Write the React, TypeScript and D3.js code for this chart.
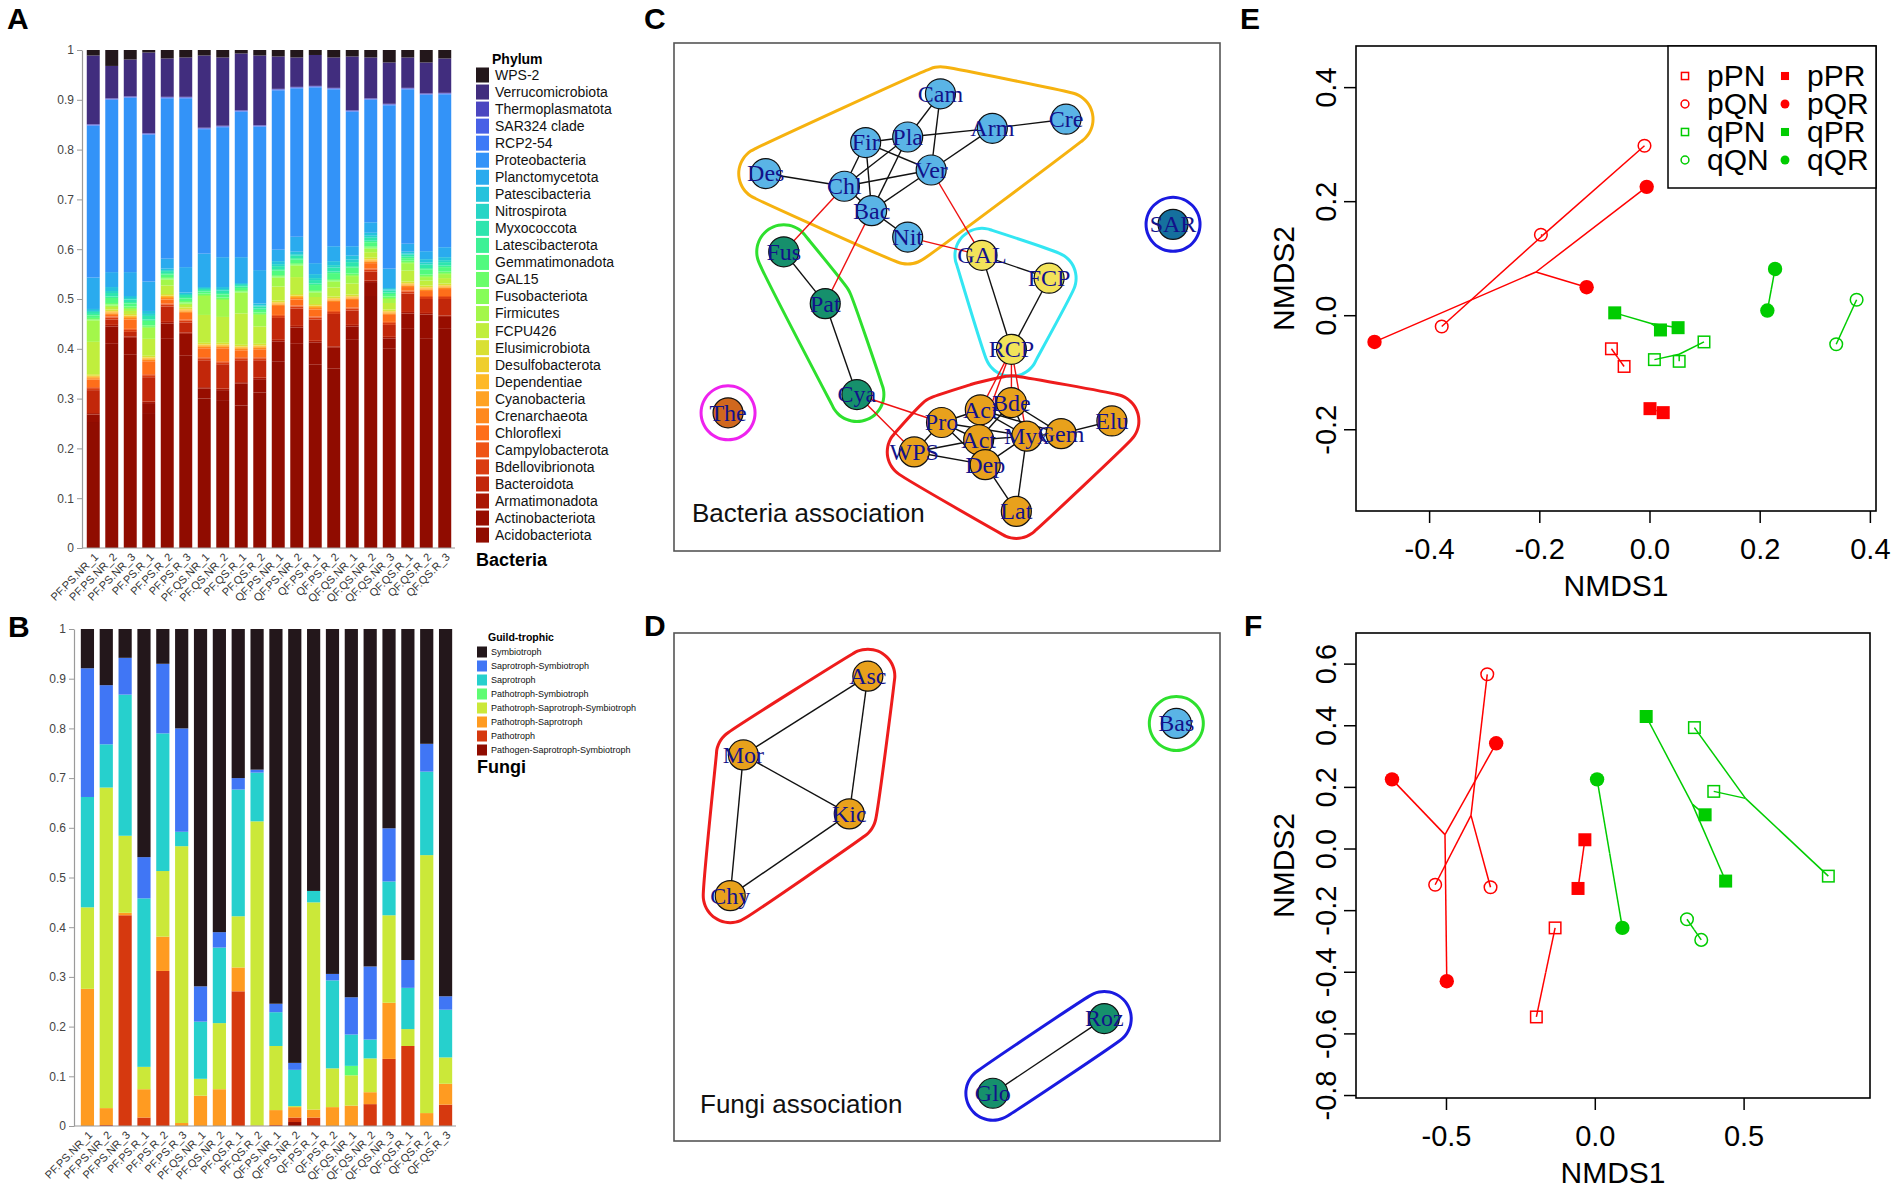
import React, { useEffect, useRef } from 'react';
import * as d3 from 'd3';

const SANS = '"Liberation Sans", Arial, Helvetica, sans-serif';
const SERIF = '"Liberation Serif", "Times New Roman", Times, serif';

// ---------- samples (shared by A and B) ----------
const samples = [
  'PF.PS.NR_1', 'PF.PS.NR_2', 'PF.PS.NR_3', 'PF.PS.R_1', 'PF.PS.R_2', 'PF.PS.R_3',
  'PF.QS.NR_1', 'PF.QS.NR_2', 'PF.QS.R_1', 'PF.QS.R_2', 'QF.PS.NR_1', 'QF.PS.NR_2',
  'QF.PS.R_1', 'QF.PS.R_2', 'QF.QS.NR_1', 'QF.QS.NR_2', 'QF.QS.NR_3', 'QF.QS.R_1',
  'QF.QS.R_2', 'QF.QS.R_3',
];

// ---------- A: bacterial phyla (bottom -> top) ----------
const acidobacteriota = [0.253, 0.410, 0.388, 0.271, 0.420, 0.386, 0.300, 0.297, 0.286, 0.312, 0.375, 0.410, 0.368, 0.360, 0.418, 0.506, 0.400, 0.440, 0.420, 0.440];
const actinobacteriota = [0.015, 0.035, 0.034, 0.020, 0.031, 0.044, 0.020, 0.020, 0.044, 0.027, 0.040, 0.033, 0.045, 0.042, 0.027, 0.028, 0.021, 0.031, 0.049, 0.024];
const armatimonadota = [0.003, 0.003, 0.003, 0.003, 0.003, 0.003, 0.003, 0.003, 0.003, 0.003, 0.003, 0.003, 0.003, 0.003, 0.003, 0.003, 0.003, 0.003, 0.003, 0.003];
const bacteroidota = [0.046, 0.011, 0.009, 0.049, 0.031, 0.020, 0.054, 0.049, 0.044, 0.035, 0.044, 0.035, 0.043, 0.065, 0.029, 0.018, 0.024, 0.037, 0.028, 0.033];
const bdellovibrionota = [0.004, 0.004, 0.004, 0.004, 0.004, 0.004, 0.004, 0.004, 0.004, 0.004, 0.004, 0.004, 0.004, 0.004, 0.004, 0.004, 0.004, 0.004, 0.004, 0.004];
const campylobacterota = [0.002, 0.002, 0.002, 0.002, 0.002, 0.002, 0.002, 0.002, 0.002, 0.002, 0.002, 0.002, 0.002, 0.002, 0.002, 0.002, 0.002, 0.002, 0.002, 0.002];
const chloroflexi = [0.015, 0.003, 0.019, 0.026, 0.008, 0.013, 0.018, 0.026, 0.014, 0.016, 0.018, 0.012, 0.014, 0.018, 0.015, 0.011, 0.014, 0.007, 0.010, 0.014];
const crenarchaeota = [0.003, 0.003, 0.003, 0.003, 0.003, 0.003, 0.003, 0.003, 0.003, 0.003, 0.003, 0.003, 0.003, 0.003, 0.003, 0.003, 0.003, 0.003, 0.003, 0.003];
const cyanobacteria = [0.002, 0.002, 0.002, 0.002, 0.002, 0.002, 0.002, 0.002, 0.002, 0.002, 0.002, 0.002, 0.002, 0.002, 0.002, 0.002, 0.002, 0.002, 0.002, 0.002];
const dependentiae = [0.002, 0.002, 0.002, 0.002, 0.002, 0.002, 0.002, 0.002, 0.002, 0.002, 0.002, 0.002, 0.002, 0.002, 0.002, 0.002, 0.002, 0.002, 0.002, 0.002];
const desulfobacterota = [0.001, 0.001, 0.001, 0.001, 0.001, 0.001, 0.001, 0.001, 0.001, 0.001, 0.001, 0.001, 0.001, 0.001, 0.001, 0.001, 0.001, 0.001, 0.001, 0.001];
const elusimicrobiota = [0.003, 0.003, 0.003, 0.003, 0.003, 0.003, 0.003, 0.003, 0.003, 0.003, 0.003, 0.003, 0.003, 0.003, 0.003, 0.003, 0.003, 0.003, 0.003, 0.003];
const fcpu426 = [0.065, 0.005, 0.006, 0.034, 0.017, 0.005, 0.056, 0.052, 0.063, 0.035, 0.028, 0.034, 0.014, 0.018, 0.022, 0.011, 0.013, 0.022, 0.010, 0.011];
const firmicutes = [0.043, 0.003, 0.004, 0.022, 0.012, 0.003, 0.038, 0.034, 0.042, 0.023, 0.018, 0.023, 0.009, 0.012, 0.015, 0.007, 0.008, 0.015, 0.007, 0.008];
const fusobacteriota = [0.002, 0.002, 0.002, 0.002, 0.002, 0.002, 0.002, 0.002, 0.002, 0.002, 0.002, 0.002, 0.002, 0.002, 0.002, 0.002, 0.002, 0.002, 0.002, 0.002];
const gal15 = [0.003, 0.003, 0.003, 0.003, 0.003, 0.003, 0.003, 0.003, 0.003, 0.003, 0.003, 0.003, 0.003, 0.003, 0.003, 0.003, 0.003, 0.003, 0.003, 0.003];
const gemmatimonadota = [0.005, 0.010, 0.006, 0.009, 0.005, 0.005, 0.004, 0.006, 0.004, 0.005, 0.009, 0.007, 0.010, 0.012, 0.012, 0.008, 0.005, 0.005, 0.010, 0.009];
const latescibacterota = [0.003, 0.003, 0.003, 0.003, 0.003, 0.003, 0.003, 0.003, 0.003, 0.003, 0.003, 0.003, 0.003, 0.003, 0.003, 0.003, 0.003, 0.003, 0.003, 0.003];
const myxococcota = [0.004, 0.007, 0.005, 0.007, 0.004, 0.004, 0.002, 0.005, 0.003, 0.004, 0.006, 0.005, 0.007, 0.008, 0.008, 0.006, 0.004, 0.004, 0.007, 0.007];
const nitrospirota = [0.002, 0.004, 0.003, 0.004, 0.002, 0.002, 0.002, 0.003, 0.002, 0.002, 0.004, 0.003, 0.004, 0.005, 0.005, 0.004, 0.002, 0.002, 0.004, 0.004];
const patescibacteria = [0.004, 0.008, 0.004, 0.006, 0.003, 0.003, 0.002, 0.004, 0.002, 0.004, 0.006, 0.005, 0.008, 0.008, 0.008, 0.006, 0.003, 0.004, 0.007, 0.006];
const planctomycetota = [0.063, 0.030, 0.048, 0.059, 0.020, 0.051, 0.067, 0.060, 0.052, 0.067, 0.023, 0.030, 0.022, 0.030, 0.019, 0.021, 0.039, 0.016, 0.016, 0.020];
const proteobacteria = [0.305, 0.346, 0.350, 0.295, 0.322, 0.339, 0.250, 0.261, 0.292, 0.288, 0.320, 0.298, 0.353, 0.315, 0.270, 0.246, 0.328, 0.310, 0.314, 0.307];
const rcp2_54 = [0.001, 0.001, 0.001, 0.001, 0.001, 0.001, 0.001, 0.001, 0.001, 0.001, 0.001, 0.001, 0.001, 0.001, 0.001, 0.001, 0.001, 0.001, 0.001, 0.001];
const sar324 = [0.001, 0.001, 0.001, 0.001, 0.001, 0.001, 0.001, 0.001, 0.001, 0.001, 0.001, 0.001, 0.001, 0.001, 0.001, 0.001, 0.001, 0.001, 0.001, 0.001];
const thermoplasmatota = [0.001, 0.001, 0.001, 0.001, 0.001, 0.001, 0.001, 0.001, 0.001, 0.001, 0.001, 0.001, 0.001, 0.001, 0.001, 0.001, 0.001, 0.001, 0.001, 0.001];
const verrucomicrobiota = [0.138, 0.065, 0.074, 0.162, 0.077, 0.079, 0.145, 0.137, 0.114, 0.140, 0.065, 0.059, 0.062, 0.061, 0.108, 0.082, 0.083, 0.061, 0.062, 0.069];
const wps2 = [0.011, 0.032, 0.019, 0.005, 0.017, 0.015, 0.011, 0.015, 0.007, 0.011, 0.013, 0.015, 0.010, 0.015, 0.013, 0.015, 0.025, 0.015, 0.025, 0.017];

const phylumNames = [
  'Acidobacteriota', 'Actinobacteriota', 'Armatimonadota', 'Bacteroidota', 'Bdellovibrionota',
  'Campylobacterota', 'Chloroflexi', 'Crenarchaeota', 'Cyanobacteria', 'Dependentiae',
  'Desulfobacterota', 'Elusimicrobiota', 'FCPU426', 'Firmicutes', 'Fusobacteriota', 'GAL15',
  'Gemmatimonadota', 'Latescibacterota', 'Myxococcota', 'Nitrospirota', 'Patescibacteria',
  'Planctomycetota', 'Proteobacteria', 'RCP2-54', 'SAR324 clade', 'Thermoplasmatota',
  'Verrucomicrobiota', 'WPS-2',
];
const phylumSeries = [
  acidobacteriota, actinobacteriota, armatimonadota, bacteroidota, bdellovibrionota,
  campylobacterota, chloroflexi, crenarchaeota, cyanobacteria, dependentiae,
  desulfobacterota, elusimicrobiota, fcpu426, firmicutes, fusobacteriota, gal15,
  gemmatimonadota, latescibacterota, myxococcota, nitrospirota, patescibacteria,
  planctomycetota, proteobacteria, rcp2_54, sar324, thermoplasmatota,
  verrucomicrobiota, wps2,
];

// ---------- B: fungal guilds (bottom -> top) ----------
const pathogenSaproSymbio = [0, 0, 0, 0, 0, 0, 0, 0, 0, 0, 0, 0.008, 0, 0, 0, 0, 0, 0, 0, 0];
const pathotroph = [0, 0.002, 0.424, 0.017, 0.312, 0, 0, 0, 0.271, 0, 0.002, 0.009, 0.017, 0, 0, 0.044, 0.135, 0.161, 0, 0.043];
const pathoSapro = [0.276, 0.034, 0.005, 0.057, 0.069, 0.006, 0.061, 0.074, 0.048, 0.001, 0.030, 0.021, 0.016, 0.038, 0.041, 0.024, 0.113, 0, 0.026, 0.042];
const pathoSaproSymbio = [0.164, 0.645, 0.155, 0.045, 0.132, 0.557, 0.034, 0.133, 0.103, 0.612, 0.129, 0.002, 0.417, 0.078, 0.061, 0.068, 0.176, 0.034, 0.519, 0.053];
const pathoSymbio = [0, 0, 0, 0, 0, 0, 0, 0, 0, 0, 0, 0, 0, 0, 0.019, 0, 0, 0, 0, 0];
const saprotroph = [0.222, 0.087, 0.284, 0.339, 0.277, 0.029, 0.115, 0.152, 0.255, 0.098, 0.068, 0.073, 0.023, 0.177, 0.063, 0.038, 0.068, 0.083, 0.168, 0.096];
const saproSymbio = [0.259, 0.119, 0.074, 0.083, 0.140, 0.208, 0.071, 0.031, 0.023, 0.006, 0.017, 0.014, 0, 0.013, 0.075, 0.147, 0.107, 0.056, 0.056, 0.027];
const symbiotroph = [0.079, 0.113, 0.058, 0.459, 0.070, 0.200, 0.719, 0.610, 0.300, 0.283, 0.754, 0.873, 0.527, 0.694, 0.741, 0.679, 0.401, 0.666, 0.231, 0.739];

const guildNames = [
  'Pathogen-Saprotroph-Symbiotroph', 'Pathotroph', 'Pathotroph-Saprotroph',
  'Pathotroph-Saprotroph-Symbiotroph', 'Pathotroph-Symbiotroph', 'Saprotroph',
  'Saprotroph-Symbiotroph', 'Symbiotroph',
];
const guildSeries = [
  pathogenSaproSymbio, pathotroph, pathoSapro, pathoSaproSymbio, pathoSymbio,
  saprotroph, saproSymbio, symbiotroph,
];

// ---------- C: bacteria association network (layout units 0-100) ----------
const bactNodes = ['Cam', 'Cre', 'Arm', 'Pla', 'Fir', 'Ver', 'Des', 'Chl', 'Bac', 'Nit', 'SAR', 'Fus', 'GAL', 'FCP', 'Pat', 'RCP', 'Cya', 'The', 'Bde', 'Aci', 'Elu', 'Pro', 'Gem', 'Myx', 'Act', 'WPS', 'Dep', 'Lat'];
const bactNodeX = [48.8, 71.8, 58.3, 42.8, 35.1, 47.1, 16.8, 31.2, 36.2, 42.8, 91.4, 20.1, 56.4, 68.7, 27.7, 61.8, 33.5, 9.9, 61.8, 56.1, 80.2, 49.0, 70.9, 64.6, 55.8, 44.0, 57.0, 62.7];
const bactNodeY = [10.0, 15.0, 16.8, 18.5, 19.6, 25.0, 25.7, 28.2, 33.0, 38.2, 35.7, 41.1, 41.8, 46.3, 51.3, 60.3, 69.2, 72.8, 70.8, 72.2, 74.4, 74.7, 76.9, 77.4, 78.1, 80.5, 83.0, 92.2];
const bactNodeModule = [0, 0, 0, 0, 0, 0, 0, 0, 0, 0, 5, 1, 2, 2, 1, 2, 1, 4, 3, 3, 3, 3, 3, 3, 3, 3, 3, 3];
const bactEdgeFrom = ['Cam', 'Cam', 'Pla', 'Arm', 'Arm', 'Fir', 'Fir', 'Fir', 'Fir', 'Pla', 'Pla', 'Ver', 'Ver', 'Des', 'Chl', 'Bac', 'Fus', 'Pat', 'GAL', 'GAL', 'FCP', 'Pro', 'Pro', 'Pro', 'Pro', 'Pro', 'Aci', 'Aci', 'Aci', 'Aci', 'Aci', 'Bde', 'Bde', 'Bde', 'Act', 'Act', 'Act', 'WPS', 'Dep', 'Dep', 'Myx', 'Myx', 'Gem', 'Chl', 'Bac', 'Ver', 'Nit', 'Cya', 'Cya', 'RCP', 'RCP', 'RCP', 'RCP'];
const bactEdgeTo = ['Pla', 'Ver', 'Arm', 'Cre', 'Ver', 'Pla', 'Ver', 'Chl', 'Bac', 'Chl', 'Bac', 'Chl', 'Bac', 'Chl', 'Bac', 'Nit', 'Pat', 'Cya', 'FCP', 'RCP', 'RCP', 'Aci', 'Act', 'WPS', 'Myx', 'Dep', 'Bde', 'Act', 'Myx', 'Dep', 'Gem', 'Myx', 'Gem', 'Act', 'Myx', 'Dep', 'WPS', 'Dep', 'Myx', 'Lat', 'Gem', 'Lat', 'Elu', 'Fus', 'Pat', 'GAL', 'GAL', 'Pro', 'WPS', 'Aci', 'Bde', 'Myx', 'Act'];
const bactEdgeSign = [1, 1, 1, 1, 1, 1, 1, 1, 1, 1, 1, 1, 1, 1, 1, 1, 1, 1, 1, 1, 1, 1, 1, 1, 1, 1, 1, 1, 1, 1, 1, 1, 1, 1, 1, 1, 1, 1, 1, 1, 1, 1, 1, -1, -1, -1, -1, -1, -1, -1, -1, -1, -1];

// ---------- D: fungi association network ----------
const fungiNodes = ['Asc', 'Mor', 'Kic', 'Chy', 'Bas', 'Roz', 'Glo'];
const fungiNodeX = [35.5, 12.7, 32.1, 10.3, 92.0, 78.8, 58.4];
const fungiNodeY = [8.5, 24.0, 35.6, 51.7, 17.8, 75.9, 90.6];
const fungiNodeModule = [0, 0, 0, 0, 1, 2, 2];
const fungiEdgeFrom = ['Asc', 'Asc', 'Mor', 'Mor', 'Kic', 'Glo'];
const fungiEdgeTo = ['Mor', 'Kic', 'Kic', 'Chy', 'Chy', 'Roz'];
const fungiEdgeSign = [1, 1, 1, 1, 1, 1];

// ---------- E / F: NMDS ----------
const legendCol1 = ['pPN', 'pQN', 'qPN', 'qQN'];
const legendCol2 = ['pPR', 'pQR', 'qPR', 'qQR'];

const bactNmdsGroup = ['pQN', 'pQN', 'pQN', 'pQR', 'pQR', 'pQR', 'pPN', 'pPN', 'pPR', 'pPR', 'qPR', 'qPR', 'qPR', 'qPN', 'qPN', 'qPN', 'qQR', 'qQR', 'qQN', 'qQN'];
const bactNmdsX = [-0.010, -0.198, -0.378, -0.006, -0.115, -0.500, -0.070, -0.047, 0.000, 0.024, -0.064, 0.019, 0.051, 0.008, 0.053, 0.098, 0.213, 0.227, 0.338, 0.375];
const bactNmdsY = [0.298, 0.142, -0.019, 0.226, 0.050, -0.046, -0.058, -0.089, -0.163, -0.170, 0.005, -0.025, -0.021, -0.077, -0.080, -0.046, 0.009, 0.082, -0.050, 0.028];
const bactTicksX = [-0.4, -0.2, 0.0, 0.2, 0.4];
const bactTicksY = [-0.2, 0.0, 0.2, 0.4];

const fungiNmdsGroup = ['pQR', 'pQR', 'pQR', 'pQN', 'pQN', 'pQN', 'pPR', 'pPR', 'pPN', 'pPN', 'qQR', 'qQR', 'qQN', 'qQN', 'qPR', 'qPR', 'qPR', 'qPN', 'qPN', 'qPN'];
const fungiNmdsX = [-0.683, -0.333, -0.499, -0.363, -0.538, -0.352, -0.035, -0.058, -0.135, -0.198, 0.006, 0.091, 0.308, 0.356, 0.171, 0.369, 0.438, 0.333, 0.398, 0.783];
const fungiNmdsY = [0.226, 0.343, -0.429, 0.567, -0.116, -0.124, 0.030, -0.128, -0.256, -0.545, 0.226, -0.256, -0.228, -0.295, 0.430, 0.111, -0.104, 0.394, 0.187, -0.088];
const fungiTicksX = [-0.5, 0.0, 0.5];
const fungiTicksY = [-0.8, -0.6, -0.4, -0.2, 0.0, 0.2, 0.4, 0.6];

type Sel = d3.Selection<SVGGElement, unknown, null, undefined>;

function drawStack(g: Sel, names: string[], series: number[][], range: [number, number], yRange: [number, number], axisX: number) {
  const n = names.length;
  const color = (i: number) => d3.interpolateTurbo(1 - i / (n - 1));
  const x = d3.scaleBand<string>().domain(samples).range(range).paddingInner(0.3).paddingOuter(0.15);
  const y = d3.scaleLinear().domain([0, 1]).range(yRange);
  const rows = samples.map((_, j) => {
    const r: Record<string, number> = {};
    names.forEach((nm, i) => { r[nm] = series[i][j]; });
    return r;
  });
  const stacked = d3.stack<Record<string, number>>().keys(names)(rows);
  stacked.forEach((layer, i) => {
    g.append('g').attr('fill', color(i))
      .selectAll('rect').data(layer).join('rect')
      .attr('x', (_, j) => x(samples[j])!)
      .attr('y', d => y(Math.min(d[1], 1)))
      .attr('width', x.bandwidth())
      .attr('height', d => Math.max(0, y(d[0]) - y(Math.min(d[1], 1))));
  });

  const ax = g.append('g').attr('transform', `translate(${axisX},0)`)
    .call(d3.axisLeft(y).tickValues(d3.range(0, 11).map(i => i / 10))
      .tickFormat(d => d3.format('.1~f')(d as number)).tickSize(5).tickSizeOuter(0).tickPadding(3));
  ax.select('.domain').attr('stroke', '#9a9a9a').attr('stroke-width', 1.2);
  ax.selectAll('.tick line').attr('stroke', '#9a9a9a');
  ax.selectAll('.tick text').attr('fill', '#444').attr('font-size', 12).attr('font-family', SANS);

  g.append('line').attr('x1', axisX).attr('x2', range[1] + 1)
    .attr('y1', yRange[0]).attr('y2', yRange[0]).attr('stroke', '#9a9a9a').attr('stroke-width', 1.2);

  g.append('g').selectAll('text').data(samples).join('text')
    .attr('transform', d => `translate(${x(d)! + x.bandwidth() / 2 + 3},${yRange[0] + 7}) rotate(-45)`)
    .attr('text-anchor', 'end').attr('dy', '0.35em')
    .attr('font-family', SANS).attr('font-size', 11).attr('fill', '#333')
    .text(d => d);
  return color;
}

function drawLegend(g: Sel, names: string[], color: (i: number) => string, opt: {
  x: number; y0: number; pitch: number; sw: number; sh: number; textX: number; fs: number;
  title: string; titleY: number; titleFs: number; caption: string; captionY: number;
}) {
  const order = d3.range(names.length).reverse();
  g.append('text').attr('x', opt.textX - 3).attr('y', opt.titleY).attr('dy', '0.35em')
    .attr('font-family', SANS).attr('font-weight', 'bold').attr('font-size', opt.titleFs).text(opt.title);
  order.forEach((i, k) => {
    const cy = opt.y0 + k * opt.pitch;
    g.append('rect').attr('x', opt.x).attr('y', cy - opt.sh / 2).attr('width', opt.sw).attr('height', opt.sh)
      .attr('fill', color(i));
    g.append('text').attr('x', opt.textX).attr('y', cy).attr('dy', '0.35em')
      .attr('font-family', SANS).attr('font-size', opt.fs).attr('fill', '#111').text(names[i]);
  });
  g.append('text').attr('x', opt.x).attr('y', opt.captionY).attr('dy', '0.35em')
    .attr('font-family', SANS).attr('font-weight', 'bold').attr('font-size', 18).text(opt.caption);
}

function hullPath(pts: [number, number][], r: number) {
  const ring: [number, number][] = [];
  pts.forEach(([px, py]) => {
    for (let k = 0; k < 32; k++) {
      const a = (k / 32) * Math.PI * 2;
      ring.push([px + r * Math.cos(a), py + r * Math.sin(a)]);
    }
  });
  const hull = d3.polygonHull(ring) || ring;
  return d3.line().curve(d3.curveCatmullRomClosed.alpha(0.5))(hull) || '';
}

function drawNetwork(g: Sel, cfg: {
  names: string[]; xs: number[]; ys: number[]; modules: number[];
  from: string[]; to: string[]; sign: number[];
  box: [number, number, number, number]; fills: string[]; borders: string[];
  caption: string; capX: number; capY: number;
}) {
  const [x0, x1, y0, y1] = cfg.box;
  const sx = d3.scaleLinear().domain([0, 100]).range([x0, x1]);
  const sy = d3.scaleLinear().domain([0, 100]).range([y0, y1]);
  const pos = new Map(cfg.names.map((nm, i) => [nm, [sx(cfg.xs[i]), sy(cfg.ys[i])] as [number, number]]));

  g.append('rect').attr('x', x0).attr('y', y0).attr('width', x1 - x0).attr('height', y1 - y0)
    .attr('fill', 'none').attr('stroke', '#555').attr('stroke-width', 1.6);

  const mods = Array.from(new Set(cfg.modules));
  mods.forEach(m => {
    const pts = cfg.names.filter((_, i) => cfg.modules[i] === m).map(nm => pos.get(nm)!);
    g.append('path').attr('d', hullPath(pts, 27)).attr('fill', 'none')
      .attr('stroke', cfg.borders[m]).attr('stroke-width', 3);
  });

  cfg.from.forEach((f, i) => {
    const a = pos.get(f)!;
    const b = pos.get(cfg.to[i])!;
    g.append('line').attr('x1', a[0]).attr('y1', a[1]).attr('x2', b[0]).attr('y2', b[1])
      .attr('stroke', cfg.sign[i] > 0 ? '#111' : '#ee1111').attr('stroke-width', 1.4);
  });

  cfg.names.forEach((nm, i) => {
    const p = pos.get(nm)!;
    g.append('circle').attr('cx', p[0]).attr('cy', p[1]).attr('r', 15)
      .attr('fill', cfg.fills[cfg.modules[i]]).attr('stroke', '#111').attr('stroke-width', 1.2);
  });
  cfg.names.forEach(nm => {
    const p = pos.get(nm)!;
    g.append('text').attr('x', p[0]).attr('y', p[1]).attr('dy', '0.33em').attr('text-anchor', 'middle')
      .attr('font-family', SERIF).attr('font-size', 24).attr('fill', '#12128a').text(nm);
  });

  g.append('text').attr('x', cfg.capX).attr('y', cfg.capY).attr('font-family', SANS)
    .attr('font-size', 26).attr('fill', '#111').text(cfg.caption);
}

const groupColor = (grp: string) => (grp[0] === 'p' ? '#ff0000' : '#00cc00');

function drawMarker(g: Sel, grp: string, cx: number, cy: number, scale: number) {
  const col = groupColor(grp);
  const kind = grp.slice(1);
  if (kind === 'PN') {
    const s = 11.5 * scale;
    g.append('rect').attr('x', cx - s / 2).attr('y', cy - s / 2).attr('width', s).attr('height', s)
      .attr('fill', 'none').attr('stroke', col).attr('stroke-width', 1.5);
  } else if (kind === 'QN') {
    g.append('circle').attr('cx', cx).attr('cy', cy).attr('r', 6.3 * scale)
      .attr('fill', 'none').attr('stroke', col).attr('stroke-width', 1.5);
  } else if (kind === 'PR') {
    const s = 13 * scale;
    g.append('rect').attr('x', cx - s / 2).attr('y', cy - s / 2).attr('width', s).attr('height', s).attr('fill', col);
  } else {
    g.append('circle').attr('cx', cx).attr('cy', cy).attr('r', 7.2 * scale).attr('fill', col);
  }
}

function drawNmds(g: Sel, cfg: {
  groups: string[]; xs: number[]; ys: number[];
  xDomain: [number, number]; yDomain: [number, number];
  xRange: [number, number]; yRange: [number, number];
  xTicks: number[]; yTicks: number[]; legend: boolean;
}) {
  const x = d3.scaleLinear().domain(cfg.xDomain).range(cfg.xRange);
  const y = d3.scaleLinear().domain(cfg.yDomain).range(cfg.yRange);
  const [L, R] = cfg.xRange;
  const [B, T] = cfg.yRange;

  // spiders: centroid of each group to its members
  const byGroup = d3.group(d3.range(cfg.groups.length), i => cfg.groups[i]);
  byGroup.forEach((idx, grp) => {
    const cxv = d3.mean(idx, i => cfg.xs[i])!;
    const cyv = d3.mean(idx, i => cfg.ys[i])!;
    idx.forEach(i => {
      g.append('line').attr('x1', x(cxv)).attr('y1', y(cyv)).attr('x2', x(cfg.xs[i])).attr('y2', y(cfg.ys[i]))
        .attr('stroke', groupColor(grp)).attr('stroke-width', 1.5);
    });
  });
  cfg.groups.forEach((grp, i) => drawMarker(g, grp, x(cfg.xs[i]), y(cfg.ys[i]), 1));

  g.append('rect').attr('x', L).attr('y', T).attr('width', R - L).attr('height', B - T)
    .attr('fill', 'none').attr('stroke', '#000').attr('stroke-width', 1.6);

  cfg.xTicks.forEach(t => {
    g.append('line').attr('x1', x(t)).attr('x2', x(t)).attr('y1', B).attr('y2', B + 12)
      .attr('stroke', '#000').attr('stroke-width', 1.5);
    g.append('text').attr('x', x(t)).attr('y', B + 48).attr('text-anchor', 'middle')
      .attr('font-family', SANS).attr('font-size', 29).text(t.toFixed(1));
  });
  cfg.yTicks.forEach(t => {
    g.append('line').attr('x1', L - 12).attr('x2', L).attr('y1', y(t)).attr('y2', y(t))
      .attr('stroke', '#000').attr('stroke-width', 1.5);
    g.append('text').attr('transform', `translate(${L - 20},${y(t)}) rotate(-90)`).attr('text-anchor', 'middle')
      .attr('font-family', SANS).attr('font-size', 29).text(t.toFixed(1));
  });
  g.append('text').attr('x', (L + R) / 2).attr('y', B + 85).attr('text-anchor', 'middle')
    .attr('font-family', SANS).attr('font-size', 30).text('NMDS1');
  g.append('text').attr('transform', `translate(${L - 62},${(T + B) / 2}) rotate(-90)`).attr('text-anchor', 'middle')
    .attr('font-family', SANS).attr('font-size', 30).text('NMDS2');

  if (cfg.legend) {
    const lx = R - 208;
    g.append('rect').attr('x', lx).attr('y', T).attr('width', 208).attr('height', 142)
      .attr('fill', '#fff').attr('stroke', '#000').attr('stroke-width', 1.5);
    [legendCol1, legendCol2].forEach((col, c) => {
      col.forEach((grp, k) => {
        const cy = T + 30 + k * 28;
        const mx = lx + 17 + c * 100;
        drawMarker(g, grp, mx, cy, 0.62);
        g.append('text').attr('x', mx + 22).attr('y', cy + 10).attr('font-family', SANS)
          .attr('font-size', 30).text(grp);
      });
    });
  }
}

const App: React.FC = () => {
  const svgRef = useRef<SVGSVGElement>(null);

  useEffect(() => {
    if (!svgRef.current) return;
    const svg = d3.select(svgRef.current);
    svg.selectAll('*').remove();
    const root = svg.append('g') as unknown as Sel;

    // panel letters
    const letters: [string, number, number][] = [['A', 7, 29], ['B', 8, 637], ['C', 644, 29], ['D', 644, 636], ['E', 1240, 29], ['F', 1244, 636]];
    letters.forEach(([t, lx, ly]) => {
      root.append('text').attr('x', lx).attr('y', ly).attr('font-family', SANS)
        .attr('font-weight', 'bold').attr('font-size', 30).text(t);
    });

    // A
    const gA = root.append('g') as Sel;
    const colA = drawStack(gA, phylumNames, phylumSeries, [84, 454], [548, 50], 82);
    drawLegend(gA, phylumNames, colA, {
      x: 476, y0: 75, pitch: 17.04, sw: 13, sh: 15, textX: 495, fs: 14,
      title: 'Phylum', titleY: 59, titleFs: 14, caption: 'Bacteria', captionY: 560,
    });

    // B
    const gB = root.append('g') as Sel;
    const colB = drawStack(gB, guildNames, guildSeries, [78, 455], [1126, 629], 74);
    drawLegend(gB, guildNames, colB, {
      x: 477, y0: 652, pitch: 14, sw: 10, sh: 11, textX: 491, fs: 9,
      title: 'Guild-trophic', titleY: 637, titleFs: 10.5, caption: 'Fungi', captionY: 767,
    });

    // C
    drawNetwork(root.append('g') as Sel, {
      names: bactNodes, xs: bactNodeX, ys: bactNodeY, modules: bactNodeModule,
      from: bactEdgeFrom, to: bactEdgeTo, sign: bactEdgeSign,
      box: [674, 1220, 43, 551],
      fills: ['#5ab4e6', '#16906c', '#f2e35a', '#e8a11c', '#d0681e', '#15709e'],
      borders: ['#f6b20f', '#2ee02e', '#33e6f2', '#ee1c1c', '#ee22ee', '#1a1ae0'],
      caption: 'Bacteria association', capX: 692, capY: 522,
    });

    // D
    drawNetwork(root.append('g') as Sel, {
      names: fungiNodes, xs: fungiNodeX, ys: fungiNodeY, modules: fungiNodeModule,
      from: fungiEdgeFrom, to: fungiEdgeTo, sign: fungiEdgeSign,
      box: [674, 1220, 633, 1141],
      fills: ['#e8a11c', '#5ab4e6', '#16906c'],
      borders: ['#ee1c1c', '#2ee02e', '#1a1ae0'],
      caption: 'Fungi association', capX: 700, capY: 1113,
    });

    // E
    drawNmds(root.append('g') as Sel, {
      groups: bactNmdsGroup, xs: bactNmdsX, ys: bactNmdsY,
      xDomain: [-0.5336, 0.4102], yDomain: [-0.3425, 0.473],
      xRange: [1356, 1876], yRange: [511, 46],
      xTicks: bactTicksX, yTicks: bactTicksY, legend: true,
    });

    // F
    drawNmds(root.append('g') as Sel, {
      groups: fungiNmdsGroup, xs: fungiNmdsX, ys: fungiNmdsY,
      xDomain: [-0.804, 0.923], yDomain: [-0.808, 0.701],
      xRange: [1356, 1870], yRange: [1098, 633],
      xTicks: fungiTicksX, yTicks: fungiTicksY, legend: false,
    });
  }, []);

  return (
    <div style={{ position: 'absolute', left: 0, top: 0, background: '#fff' }}>
      <svg ref={svgRef} width={1902} height={1189} style={{ display: 'block' }} />
    </div>
  );
};

export default App;
